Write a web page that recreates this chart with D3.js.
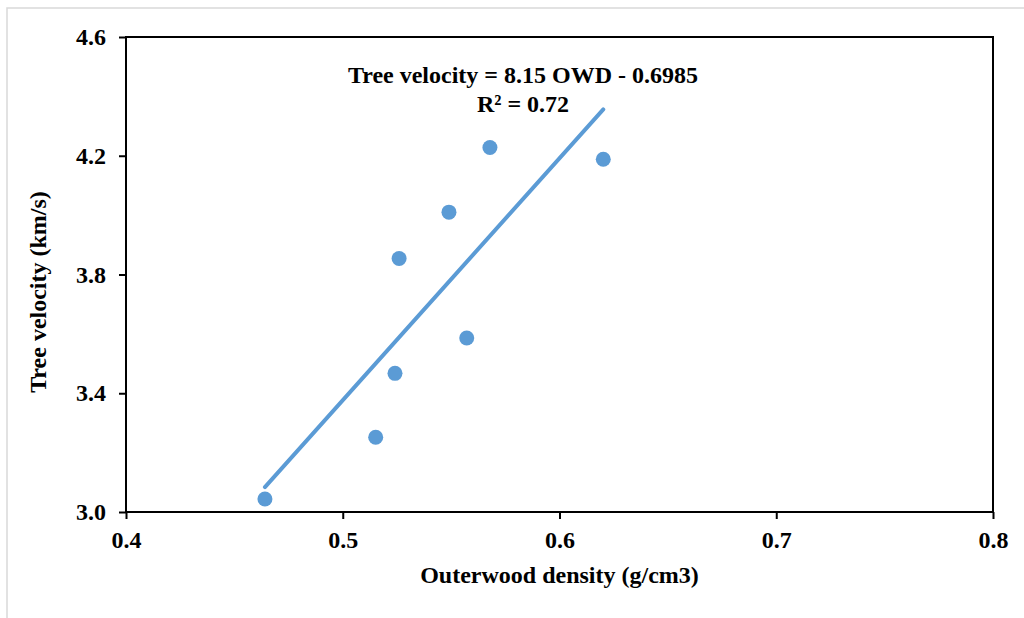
<!DOCTYPE html>
<html>
<head>
    <style>
        body { margin: 0; background: #fff; overflow: hidden; }
        svg { display: block; }
        svg text {
            font-family: "Liberation Serif", "Times New Roman", serif;
            font-weight: bold;
            fill: #000;
        }
        .axis path, .axis line { stroke: #000; stroke-width: 2px; }
        .axis text { font-size: 24px; }
    </style>
    <script src="https://d3js.org/d3.v7.min.js"></script>
</head>
<body>
<svg width="1024" height="618"></svg>
<script>
    // outerwood density (g/cm3) and tree velocity (km/s)
    let density = [0.4641, 0.5152, 0.5241, 0.5260, 0.5490, 0.5679, 0.5572, 0.6202];
    let velocity = [3.044, 3.252, 3.467, 3.854, 4.010, 4.228, 3.586, 4.188];
    let xTicks = [0.4, 0.5, 0.6, 0.7, 0.8];
    let yTicks = [3.0, 3.4, 3.8, 4.2, 4.6];
    let slope = 8.15, intercept = -0.6985;

    let svg = d3.select("svg");

    // light outer frame
    svg.append("rect")
        .attr("x", 7).attr("y", 8)
        .attr("width", 1030).attr("height", 630)
        .attr("fill", "none")
        .attr("stroke", "#d9d9d9")
        .attr("stroke-width", 1.5);

    let pLeft = 126, pRight = 993, pTop = 37, pBottom = 512;

    let x = d3.scaleLinear().domain([0.4, 0.8]).range([pLeft, pRight]);
    let y = d3.scaleLinear().domain([3.0, 4.6]).range([pBottom, pTop]);

    // plot frame
    svg.append("rect")
        .attr("x", pLeft).attr("y", pTop)
        .attr("width", pRight - pLeft).attr("height", pBottom - pTop)
        .attr("fill", "none")
        .attr("stroke", "#000")
        .attr("stroke-width", 2);

    svg.append("g")
        .attr("class", "axis")
        .attr("transform", "translate(0," + pBottom + ")")
        .call(d3.axisBottom(x).tickValues(xTicks).tickFormat(d3.format(".1f"))
            .tickSizeOuter(0).tickSize(7).tickPadding(12));

    svg.append("g")
        .attr("class", "axis")
        .attr("transform", "translate(" + pLeft + ",0)")
        .call(d3.axisLeft(y).tickValues(yTicks).tickFormat(d3.format(".1f"))
            .tickSizeOuter(0).tickSize(7).tickPadding(13));

    svg.selectAll(".axis .domain").remove();

    // trend line
    let xMin = d3.min(density), xMax = d3.max(density);
    svg.append("line")
        .attr("x1", x(xMin)).attr("y1", y(slope * xMin + intercept))
        .attr("x2", x(xMax)).attr("y2", y(slope * xMax + intercept))
        .attr("stroke", "#5b9bd5")
        .attr("stroke-width", 4)
        .attr("stroke-linecap", "round");

    svg.selectAll(".dot")
        .data(density)
        .enter()
        .append("circle")
        .attr("class", "dot")
        .attr("cx", function(d) { return x(d); })
        .attr("cy", function(d, i) { return y(velocity[i]); })
        .attr("r", 7.5)
        .attr("fill", "#5b9bd5");

    // equation
    svg.append("text")
        .attr("x", 523).attr("y", 83)
        .attr("text-anchor", "middle")
        .style("font-size", "24px")
        .text("Tree velocity = 8.15 OWD - 0.6985");

    svg.append("text")
        .attr("x", 523).attr("y", 112)
        .attr("text-anchor", "middle")
        .style("font-size", "24px")
        .text("R² = 0.72");

    // axis titles
    svg.append("text")
        .attr("x", (pLeft + pRight) / 2).attr("y", 583)
        .attr("text-anchor", "middle")
        .style("font-size", "24px")
        .text("Outerwood density (g/cm3)");

    svg.append("text")
        .attr("transform", "translate(46,292) rotate(-90)")
        .attr("text-anchor", "middle")
        .style("font-size", "24px")
        .text("Tree velocity (km/s)");
</script>
</body>
</html>
